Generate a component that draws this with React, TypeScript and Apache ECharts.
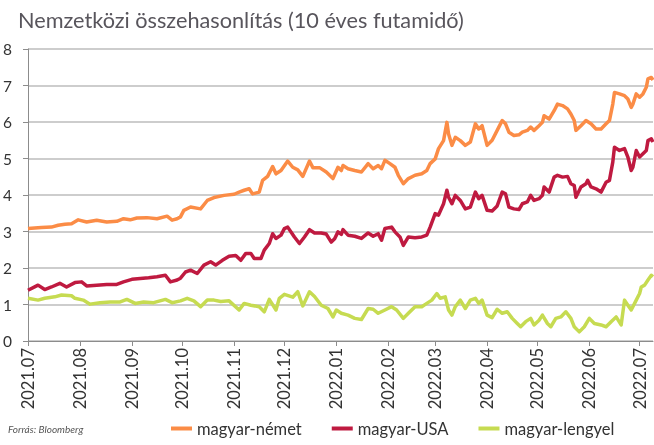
import React, { useEffect, useRef } from 'react';
import * as echarts from 'echarts';

// day offsets are counted from 2021-07-01
const titleText = 'Nemzetközi összehasonlítás (10 éves futamidő)';
const sourceText = 'Forrás: Bloomberg';
const seriesNames = ['magyar-német', 'magyar-USA', 'magyar-lengyel'];
const tickLabels = ['2021.07', '2021.08', '2021.09', '2021.10', '2021.11', '2021.12', '2022.01', '2022.02', '2022.03', '2022.04', '2022.05', '2022.06', '2022.07'];
const yTicks = [0, 1, 2, 3, 4, 5, 6, 7, 8];

const nemetDays = [0, 8, 14, 18, 22, 26, 30, 35, 41, 47, 53, 57, 61, 65, 71, 77, 83, 86, 89, 91, 93, 97, 103, 107, 111, 117, 123, 126, 129, 132, 134, 138, 140, 143, 146, 148, 151, 155, 158, 161, 164, 168, 170, 174, 178, 182, 185, 187, 188, 191, 195, 199, 203, 206, 209, 211, 213, 216, 219, 221, 224, 227, 231, 235, 238, 240, 243, 245, 248, 250, 251, 253, 255, 258, 261, 264, 267, 269, 271, 274, 277, 281, 283, 285, 287, 290, 293, 295, 298, 300, 302, 305, 307, 308, 311, 314, 316, 319, 322, 324, 326, 327, 330, 333, 336, 339, 342, 345, 347, 349, 350, 353, 356, 358, 360, 361, 363, 365, 367, 369, 370, 372, 373];
const nemet = [3.08, 3.11, 3.12, 3.17, 3.2, 3.21, 3.32, 3.26, 3.31, 3.26, 3.28, 3.35, 3.32, 3.37, 3.38, 3.35, 3.42, 3.31, 3.35, 3.4, 3.58, 3.67, 3.62, 3.85, 3.93, 3.99, 4.02, 4.08, 4.13, 4.17, 4.03, 4.08, 4.4, 4.51, 4.78, 4.58, 4.67, 4.93, 4.76, 4.69, 4.51, 4.93, 4.75, 4.75, 4.63, 4.45, 4.76, 4.67, 4.81, 4.72, 4.67, 4.63, 4.86, 4.72, 4.81, 4.72, 4.95, 4.86, 4.76, 4.54, 4.31, 4.45, 4.54, 4.58, 4.67, 4.86, 4.99, 5.27, 5.49, 5.99, 5.67, 5.36, 5.58, 5.49, 5.36, 5.45, 5.95, 5.81, 5.9, 5.36, 5.5, 5.86, 6.04, 5.95, 5.72, 5.63, 5.65, 5.72, 5.77, 5.86, 5.77, 5.9, 5.99, 6.17, 6.08, 6.31, 6.49, 6.45, 6.36, 6.22, 6.04, 5.77, 5.9, 6.04, 5.95, 5.81, 5.81, 5.95, 6.04, 6.49, 6.81, 6.77, 6.72, 6.63, 6.4, 6.49, 6.77, 6.68, 6.77, 6.95, 7.18, 7.22, 7.15];

const usaDays = [0, 6, 10, 14, 19, 23, 28, 32, 35, 41, 47, 53, 57, 62, 67, 72, 77, 82, 85, 89, 91, 94, 97, 101, 105, 109, 112, 116, 120, 124, 127, 130, 133, 135, 139, 141, 144, 146, 148, 151, 153, 155, 159, 162, 165, 168, 171, 175, 178, 181, 183, 185, 187, 188, 191, 195, 199, 203, 206, 209, 211, 213, 217, 219, 222, 224, 227, 231, 235, 238, 240, 243, 245, 248, 250, 251, 253, 255, 258, 261, 264, 267, 269, 271, 274, 277, 280, 283, 285, 287, 290, 293, 295, 298, 300, 302, 305, 307, 308, 311, 314, 316, 319, 322, 324, 326, 327, 330, 333, 334, 336, 339, 342, 345, 347, 349, 350, 353, 356, 358, 360, 361, 363, 365, 367, 369, 370, 372, 373];
const usa = [1.39, 1.53, 1.41, 1.48, 1.58, 1.48, 1.6, 1.62, 1.51, 1.53, 1.55, 1.55, 1.62, 1.69, 1.71, 1.73, 1.76, 1.8, 1.62, 1.67, 1.72, 1.89, 1.94, 1.85, 2.08, 2.17, 2.08, 2.21, 2.32, 2.34, 2.21, 2.4, 2.4, 2.26, 2.26, 2.49, 2.67, 2.94, 2.81, 2.9, 3.08, 3.12, 2.85, 2.67, 2.85, 3.05, 2.96, 2.96, 2.93, 2.71, 2.8, 2.99, 2.92, 3.05, 2.9, 2.87, 2.81, 2.96, 2.87, 2.94, 2.76, 3.08, 3.12, 2.99, 2.85, 2.62, 2.85, 2.83, 2.85, 2.9, 3.12, 3.49, 3.45, 3.76, 4.13, 3.94, 3.76, 3.99, 3.85, 3.62, 3.67, 4.08, 3.9, 3.99, 3.58, 3.56, 3.7, 4.08, 4.03, 3.67, 3.62, 3.6, 3.76, 3.81, 3.99, 3.85, 3.9, 3.99, 4.22, 4.08, 4.49, 4.54, 4.49, 4.51, 4.31, 4.26, 3.94, 4.22, 4.31, 4.4, 4.22, 4.17, 4.08, 4.35, 4.4, 4.9, 5.31, 5.22, 5.27, 5.04, 4.67, 4.76, 5.22, 5.04, 5.13, 5.22, 5.49, 5.54, 5.45];

const lengyelDays = [0, 6, 10, 16, 20, 26, 28, 33, 37, 43, 49, 55, 59, 64, 69, 75, 82, 86, 91, 95, 99, 103, 107, 111, 115, 120, 126, 129, 133, 138, 141, 144, 148, 150, 153, 158, 161, 164, 168, 171, 175, 179, 182, 184, 187, 191, 195, 199, 203, 206, 209, 213, 217, 220, 224, 227, 231, 235, 238, 241, 244, 246, 249, 251, 253, 255, 258, 261, 264, 267, 269, 271, 274, 277, 280, 283, 286, 289, 292, 294, 297, 300, 302, 305, 307, 310, 312, 315, 318, 321, 324, 326, 329, 332, 335, 338, 342, 345, 348, 351, 354, 356, 358, 360, 363, 365, 366, 368, 370, 372, 373];
const lengyel = [1.17, 1.12, 1.17, 1.21, 1.26, 1.24, 1.17, 1.12, 1.01, 1.05, 1.07, 1.07, 1.14, 1.03, 1.07, 1.05, 1.14, 1.05, 1.1, 1.17, 1.1, 0.94, 1.12, 1.12, 1.08, 1.1, 0.85, 1.03, 0.98, 0.94, 0.8, 1.14, 0.85, 1.17, 1.28, 1.2, 1.35, 0.96, 1.35, 1.22, 0.98, 0.89, 0.66, 0.85, 0.76, 0.71, 0.62, 0.59, 0.89, 0.87, 0.76, 0.85, 0.94, 0.85, 0.62, 0.76, 0.94, 0.94, 1.03, 1.12, 1.3, 1.17, 1.21, 0.85, 0.71, 0.94, 1.12, 0.89, 1.12, 1.17, 1.03, 1.12, 0.71, 0.64, 0.87, 0.76, 0.8, 0.62, 0.48, 0.39, 0.53, 0.62, 0.44, 0.57, 0.71, 0.48, 0.39, 0.62, 0.66, 0.8, 0.62, 0.39, 0.25, 0.39, 0.62, 0.48, 0.44, 0.39, 0.53, 0.66, 0.44, 1.12, 0.98, 0.85, 1.12, 1.3, 1.48, 1.53, 1.67, 1.8, 1.76];

const colors = ['#fb8c46', '#bf1a40', '#c6db51'];
const fontFamily = 'Lato, "Open Sans", sans-serif';

const dayToTime = (d: number) => new Date(2021, 6, 1 + d).getTime();
const pairs = (days: number[], vals: number[]) => days.map((d, i) => [dayToTime(d), vals[i]]);
const monthStarts = tickLabels.map((t) => {
  const [y, m] = t.split('.').map(Number);
  return new Date(y, m - 1, 1).getTime();
});

export default function App() {
  const ref = useRef<HTMLDivElement>(null);
  useEffect(() => {
    if (!ref.current) return;
    const chart = echarts.init(ref.current, undefined, { renderer: 'svg' });
    const seriesData = [pairs(nemetDays, nemet), pairs(usaDays, usa), pairs(lengyelDays, lengyel)];
    chart.setOption({
      animation: false,
      title: {
        text: titleText,
        left: 13,
        top: 4,
        textStyle: { fontSize: 21.7, fontWeight: 'normal', color: '#58555c', fontFamily },
      },
      grid: { left: 27, right: 1, top: 49, bottom: 104, containLabel: false },
      legend: {
        data: seriesNames,
        left: 166,
        top: 415,
        icon: 'rect',
        itemWidth: 21,
        itemHeight: 4,
        itemGap: 30,
        textStyle: { fontSize: 16.5, color: '#333', fontFamily },
      },
      graphic: [
        {
          type: 'text',
          left: 8,
          top: 424,
          style: { text: sourceText, fontSize: 10, fontStyle: 'italic', fill: '#555', fontFamily },
        },
      ],
      xAxis: {
        type: 'value',
        min: monthStarts[0],
        max: dayToTime(373),
        axisLine: { lineStyle: { color: '#8c8c8c', width: 1 } },
        axisTick: { show: true, length: 5, customValues: monthStarts, lineStyle: { color: '#8c8c8c' } },
        axisLabel: {
          customValues: monthStarts,
          rotate: 90,
          margin: 7,
          fontSize: 16.5,
          color: '#333',
          fontFamily,
          formatter: (v: number) => tickLabels[monthStarts.indexOf(v)] ?? '',
        },
        splitLine: { show: false },
      },
      yAxis: {
        type: 'value',
        min: yTicks[0],
        max: yTicks[yTicks.length - 1],
        interval: 1,
        axisLine: { show: true, lineStyle: { color: '#8c8c8c', width: 1 } },
        axisTick: { show: true, length: 5, lineStyle: { color: '#8c8c8c' } },
        axisLabel: { fontSize: 15.5, color: '#333', margin: 16, fontFamily },
        splitLine: { lineStyle: { color: '#bdbdbd', width: 1.5 } },
      },
      series: seriesNames.map((name, i) => ({
        name,
        type: 'line',
        data: seriesData[i],
        showSymbol: false,
        symbol: 'none',
        color: colors[i],
        lineStyle: { width: 3.5, color: colors[i], join: 'round' },
      })),
    });
    return () => chart.dispose();
  }, []);
  return <div ref={ref} style={{ position: 'fixed', left: 0, top: 0, width: 654, height: 445 }} />;
}
